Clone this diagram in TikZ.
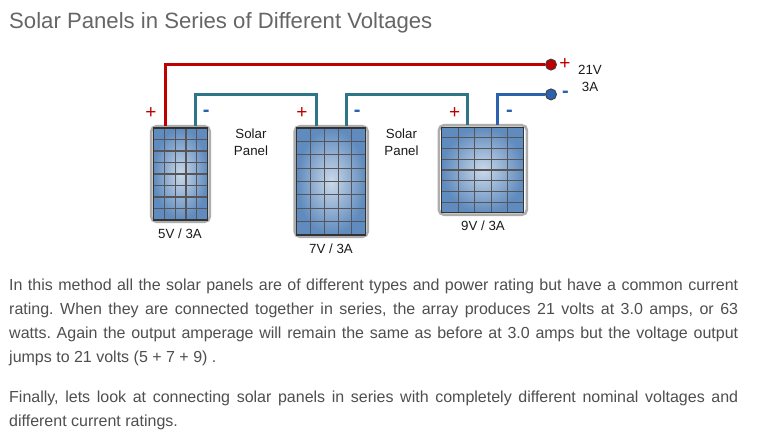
\documentclass[tikz,border=0pt]{standalone}
\usepackage{fontspec}
\setmainfont{Liberation Sans}
\usetikzlibrary{calc}
\definecolor{titlegray}{HTML}{666666}
\definecolor{bodygray}{HTML}{4F4F4F}
\definecolor{wirered}{HTML}{C00000}
\definecolor{wireteal}{HTML}{2E7587}
\definecolor{wireblue}{HTML}{2B62AE}
\definecolor{framegray}{HTML}{ADADAD}
\definecolor{cellout}{HTML}{5F8BBE}
\definecolor{cellin}{HTML}{CBD8E8}
\definecolor{gridgray}{HTML}{55555A}
\definecolor{labeltext}{HTML}{1A1A1A}
\tikzset{
  x=1pt,y=-1pt,
  panelframe/.style={draw=framegray,line width=2.6pt,rounded corners=5pt,fill=white,inner sep=0pt,outer sep=0pt},
  cellface/.style={draw=black!80,line width=1.1pt,inner sep=0pt,outer sep=0pt,inner color=cellin,outer color=cellout},
  gridline/.style={draw=gridgray,line width=1.1pt},
  wireline/.style={line width=3pt,line join=miter},
  termdot/.style={circle,draw=black!75,line width=.9pt,minimum size=11pt,inner sep=0pt},
  captext/.style={font=\fontsize{13.3}{16.6}\selectfont,text=labeltext,inner sep=0pt,align=center},
  pluslabel/.style={font=\fontsize{19}{16}\selectfont,text=wirered,inner sep=0pt},
  minuslabel/.style={font=\fontsize{20}{16}\bfseries\selectfont,text=wireblue,inner sep=0pt},
  paratext/.style={anchor=north west,inner sep=0pt,text width=729pt,align=justify,text=bodygray,font=\fontsize{16}{24}\selectfont\frenchspacing}
}
\newcommand{\solarpanel}[7]{%
  \node[panelframe,minimum width=#4pt,minimum height=#5pt] (#1) at (#2,#3) {};
  \node[cellface,minimum width=#6pt,minimum height=#7pt] (#1i) at (#2,#3) {};
  \foreach \k in {1,...,4}
    \draw[gridline] ($(#1i.north west)!\k/5!(#1i.north east)$) -- ($(#1i.south west)!\k/5!(#1i.south east)$);
  \foreach \k in {1,...,7}
    \draw[gridline] ($(#1i.north west)!\k/8!(#1i.south west)$) -- ($(#1i.north east)!\k/8!(#1i.south east)$);
  \draw[draw=black!80,line width=1.1pt] (#1i.north west) rectangle (#1i.south east);
}
\begin{document}
\begin{tikzpicture}
\useasboundingbox[fill=white] (0,0) rectangle (771,438);
\node[anchor=west,inner sep=0pt,text=titlegray,font=\fontsize{22.15}{24}\selectfont] (title) at (9,23) {Solar Panels in Series of Different Voltages};

\solarpanel{pa}{180.5}{174}{58.5}{95.5}{54.5}{92}
\solarpanel{pb}{331.2}{181.5}{73}{110.5}{69}{107}
\solarpanel{pc}{482.9}{170}{88}{89.5}{82}{85.5}

\node[termdot,fill=wirered] (tplus) at (551,64.6) {};
\node[termdot,fill=wireblue] (tminus) at (551,94.4) {};

\coordinate (paplus) at ($(pa.north)+(-15.5,0)$);
\coordinate (paminus) at ($(pa.north)+(14.8,0)$);
\coordinate (pbplus) at ($(pb.north)+(-15.2,0)$);
\coordinate (pbminus) at ($(pb.north)+(15.5,0)$);
\coordinate (pcplus) at ($(pc.north)+(-15,0)$);
\coordinate (pcminus) at ($(pc.north)+(14.8,0)$);

\draw[wireline,wirered] (paplus) |- (tplus);
\draw[wireline,wireteal] (paminus) -- (paminus |- tminus) -| (pbplus);
\draw[wireline,wireteal] (pbminus) -- (pbminus |- tminus) -| (pcplus);
\draw[wireline,wireblue] (pcminus) |- (tminus);

\node[pluslabel] (la) at (151,113) {+};
\node[minuslabel] (lb) at (206.3,113) {-};
\node[pluslabel] (lc) at (302,113) {+};
\node[minuslabel] (ld) at (357.3,113) {-};
\node[pluslabel] (le) at (454.7,113) {+};
\node[minuslabel] (lf) at (509.5,113) {-};
\node[pluslabel] (lg) at (565,64.5) {+};
\node[minuslabel] (lh) at (565.5,94) {-};

\node[captext] (out) at (590,78.5) {21V\\3A};
\node[captext] (sa) at (251,142.5) {Solar\\Panel};
\node[captext] (sb) at (401.5,142.5) {Solar\\Panel};
\node[captext] (ca) at (180,233.7) {5V / 3A};
\node[captext] (cb) at (331,248.7) {7V / 3A};
\node[captext] (cc) at (483,225.7) {9V / 3A};

\node[paratext] (body) at (9,279) {In this method all the solar panels are of different types and power rating but have a common current\linebreak rating. When they are connected together in series, the array produces 21 volts at 3.0 amps, or 63\linebreak watts. Again the output amperage will remain the same as before at 3.0 amps but the voltage output\linebreak jumps to 21 volts (5 + 7 + 9) .};
\node[paratext] (final) at (9,391) {Finally, lets look at connecting solar panels in series with completely different nominal voltages and\linebreak different current ratings.};
\end{tikzpicture}
\end{document}
